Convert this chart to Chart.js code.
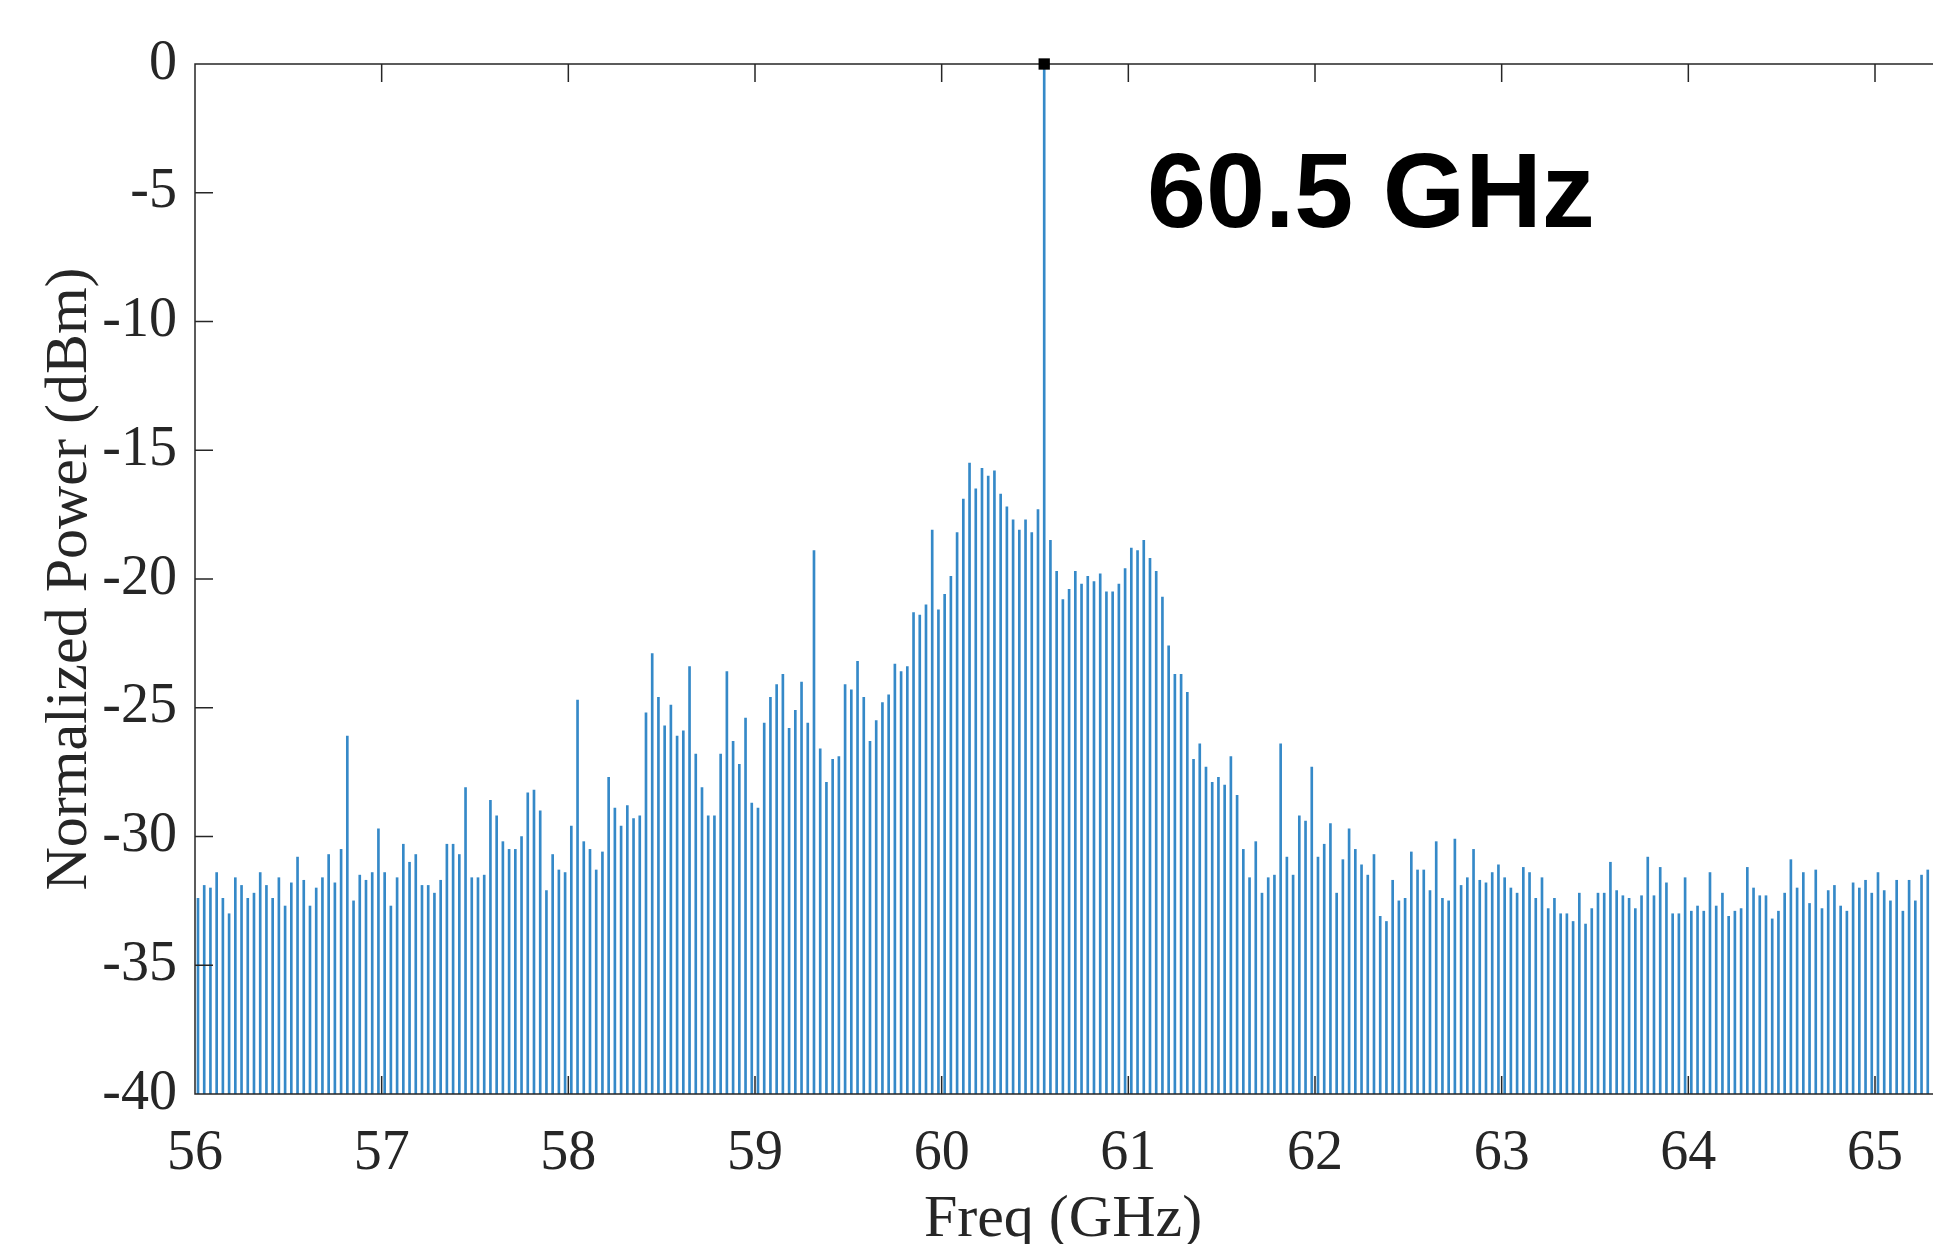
<!DOCTYPE html>
<html lang="en">
<head>
    <meta charset="UTF-8">
    <title>Spectrum 60.5 GHz</title>
    <script src="https://cdn.jsdelivr.net/npm/chart.js"></script>
    <style>
        html, body { margin: 0; padding: 0; background: #fff; }
        #wrap { width: 1939px; height: 1244px; }
    </style>
</head>
<body>
<div id="wrap"><canvas id="chart" width="1939" height="1244"></canvas></div>
<script>
    // spectral lines, one every 1/30 GHz starting just above 56 GHz
    const binStartGHz = 56.016;
    const binStepGHz = 1 / 30;

    // normalized power (dBm) per line, grouped by GHz band
    const p56 = [-32.4, -31.9, -32.0, -31.4, -32.4, -33.0, -31.6, -31.9, -32.4, -32.2,
                 -31.4, -31.9, -32.4, -31.6, -32.7, -31.8, -30.8, -31.7, -32.7, -32.0,
                 -31.6, -30.7, -31.8, -30.5, -26.1, -32.5, -31.5, -31.7, -31.4, -29.7];
    const p57 = [-31.4, -32.7, -31.6, -30.3, -31.0, -30.7, -31.9, -31.9, -32.2, -31.7,
                 -30.3, -30.3, -30.7, -28.1, -31.6, -31.6, -31.5, -28.6, -29.2, -30.2,
                 -30.5, -30.5, -30.0, -28.3, -28.2, -29.0, -32.1, -30.7, -31.3, -31.4];
    const p58 = [-29.6, -24.7, -30.2, -30.5, -31.3, -30.6, -27.7, -28.9, -29.6, -28.8,
                 -29.3, -29.2, -25.2, -22.9, -24.6, -25.7, -24.9, -26.1, -25.9, -23.4,
                 -26.8, -28.1, -29.2, -29.2, -26.8, -23.6, -26.3, -27.2, -25.4, -28.7];
    const p59 = [-28.9, -25.6, -24.6, -24.1, -23.7, -25.8, -25.1, -24.0, -25.6, -18.9,
                 -26.6, -27.9, -27.0, -26.9, -24.1, -24.3, -23.2, -24.6, -26.3, -25.5,
                 -24.8, -24.5, -23.3, -23.6, -23.4, -21.3, -21.4, -21.0, -18.1, -21.2];
    const p60 = [-20.6, -19.9, -18.2, -16.9, -15.5, -16.5, -15.7, -16.0, -15.8, -16.7,
                 -17.2, -17.7, -18.1, -17.7, -18.2, -17.3, 0, -18.5, -19.7, -20.8,
                 -20.4, -19.7, -20.2, -19.9, -20.1, -19.8, -20.5, -20.5, -20.2, -19.6];
    const p61 = [-18.8, -18.9, -18.5, -19.2, -19.7, -20.7, -22.6, -23.7, -23.7, -24.4,
                 -27.0, -26.4, -27.3, -27.9, -27.7, -28.0, -26.9, -28.4, -30.5, -31.6,
                 -30.2, -32.2, -31.6, -31.5, -26.4, -30.8, -31.5, -29.2, -29.4, -27.3];
    const p62 = [-30.8, -30.3, -29.5, -32.2, -30.9, -29.7, -30.5, -31.1, -31.5, -30.7,
                 -33.1, -33.3, -31.7, -32.5, -32.4, -30.6, -31.3, -31.3, -32.1, -30.2,
                 -32.4, -32.5, -30.1, -31.9, -31.6, -30.5, -31.7, -31.8, -31.4, -31.1];
    const p63 = [-31.6, -32.0, -32.2, -31.2, -31.4, -32.4, -31.6, -32.8, -32.4, -33.0,
                 -33.0, -33.3, -32.2, -33.4, -32.8, -32.2, -32.2, -31.0, -32.1, -32.3,
                 -32.4, -32.8, -32.3, -30.8, -32.3, -31.2, -31.8, -33.0, -33.0, -31.6];
    const p64 = [-32.9, -32.7, -32.9, -31.4, -32.7, -32.2, -33.1, -32.9, -32.8, -31.2,
                 -32.0, -32.3, -32.3, -33.2, -32.9, -32.2, -30.9, -32.0, -31.4, -32.6,
                 -31.3, -32.8, -32.1, -31.9, -32.7, -32.9, -31.8, -32.0, -31.7, -32.2];
    const p65 = [-31.4, -32.1, -32.5, -31.7, -32.9, -31.7, -32.5, -31.5, -31.3, -32.0];

    const powerDbm = [].concat(p56, p57, p58, p59, p60, p61, p62, p63, p64, p65);

    const xTicksGHz = [56, 57, 58, 59, 60, 61, 62, 63, 64, 65];
    const yTicksDbm = [-40, -35, -30, -25, -20, -15, -10, -5, 0];
    const floorDbm = -40;

    const peakLabel = '60.5 GHz';
    const peakLabelAt = { x: 61.1, y: -6.32 };

    const axisColor = '#262626';
    const lineColor = '#3589c8';
    const tickLen = 18;
    const serif = '"Liberation Serif", "Times New Roman", serif';

    const stems = powerDbm.map((v, i) => ({ x: binStartGHz + i * binStepGHz, y: [floorDbm, v] }));
    const peakIdx = powerDbm.indexOf(Math.max(...powerDbm));
    const peakPoint = [{ x: binStartGHz + peakIdx * binStepGHz, y: powerDbm[peakIdx] }];

    // MATLAB-like box: inward ticks, top edge, big annotation
    const matlabAxes = {
        id: 'matlabAxes',
        afterDatasetDraw(chart, args) {
            if (args.meta.type !== 'bar') return;
            const { ctx, chartArea: a, scales: { x, y } } = chart;
            ctx.save();
            ctx.strokeStyle = axisColor;
            ctx.lineWidth = 1.5;
            ctx.beginPath();
            ctx.moveTo(a.right + 2, a.top);
            ctx.lineTo(a.left, a.top);
            ctx.lineTo(a.left, a.bottom);
            ctx.lineTo(a.right + 2, a.bottom);
            x.ticks.forEach(t => {
                const px = x.getPixelForValue(t.value);
                ctx.moveTo(px, a.bottom);
                ctx.lineTo(px, a.bottom - tickLen);
                ctx.moveTo(px, a.top);
                ctx.lineTo(px, a.top + tickLen);
            });
            y.ticks.forEach(t => {
                const py = y.getPixelForValue(t.value);
                ctx.moveTo(a.left, py);
                ctx.lineTo(a.left + tickLen, py);
            });
            ctx.stroke();
            ctx.restore();
        },
        afterDraw(chart) {
            const { ctx, scales: { x, y } } = chart;
            ctx.save();
            ctx.font = 'bold 106px "Liberation Sans", Arial, sans-serif';
            ctx.fillStyle = '#000';
            ctx.textAlign = 'left';
            ctx.textBaseline = 'alphabetic';
            ctx.fillText(peakLabel, x.getPixelForValue(peakLabelAt.x), y.getPixelForValue(peakLabelAt.y));
            ctx.restore();
        }
    };

    new Chart(document.getElementById('chart'), {
        type: 'bar',
        data: {
            datasets: [
                {
                    type: 'scatter',
                    data: peakPoint,
                    order: -1,
                    clip: false,
                    pointStyle: 'rect',
                    pointRadius: 8,
                    backgroundColor: '#000',
                    borderColor: '#000',
                    borderWidth: 0
                },
                {
                    type: 'bar',
                    data: stems,
                    order: 0,
                    backgroundColor: lineColor,
                    borderWidth: 0,
                    barThickness: 2,
                    grouped: false
                }
            ]
        },
        options: {
            responsive: false,
            animation: false,
            layout: { padding: { top: 64, right: 0, bottom: 0, left: 0 } },
            plugins: { legend: { display: false }, tooltip: { enabled: false } },
            scales: {
                x: {
                    type: 'linear',
                    min: 56,
                    max: 65.3,
                    offset: false,
                    grid: { display: false },
                    border: { display: false },
                    afterBuildTicks: s => { s.ticks = xTicksGHz.map(v => ({ value: v })); },
                    ticks: {
                        includeBounds: false,
                        padding: 19,
                        color: axisColor,
                        font: { family: serif, size: 56 }
                    },
                    title: {
                        display: true,
                        text: 'Freq (GHz)',
                        color: axisColor,
                        font: { family: serif, size: 60, lineHeight: 0.8 },
                        padding: 0
                    },
                    afterFit: s => { s.height = 150; }
                },
                y: {
                    min: -40,
                    max: 0,
                    grid: { display: false },
                    border: { display: false },
                    afterBuildTicks: s => { s.ticks = yTicksDbm.map(v => ({ value: v })); },
                    ticks: {
                        padding: 10,
                        color: axisColor,
                        font: { family: serif, size: 56 }
                    },
                    title: {
                        display: true,
                        text: 'Normalized Power (dBm)',
                        color: axisColor,
                        font: { family: serif, size: 60 },
                        padding: { top: 34, bottom: 0 }
                    },
                    afterFit: s => { s.width = 195; }
                }
            }
        },
        plugins: [matlabAxes]
    });
</script>
</body>
</html>
